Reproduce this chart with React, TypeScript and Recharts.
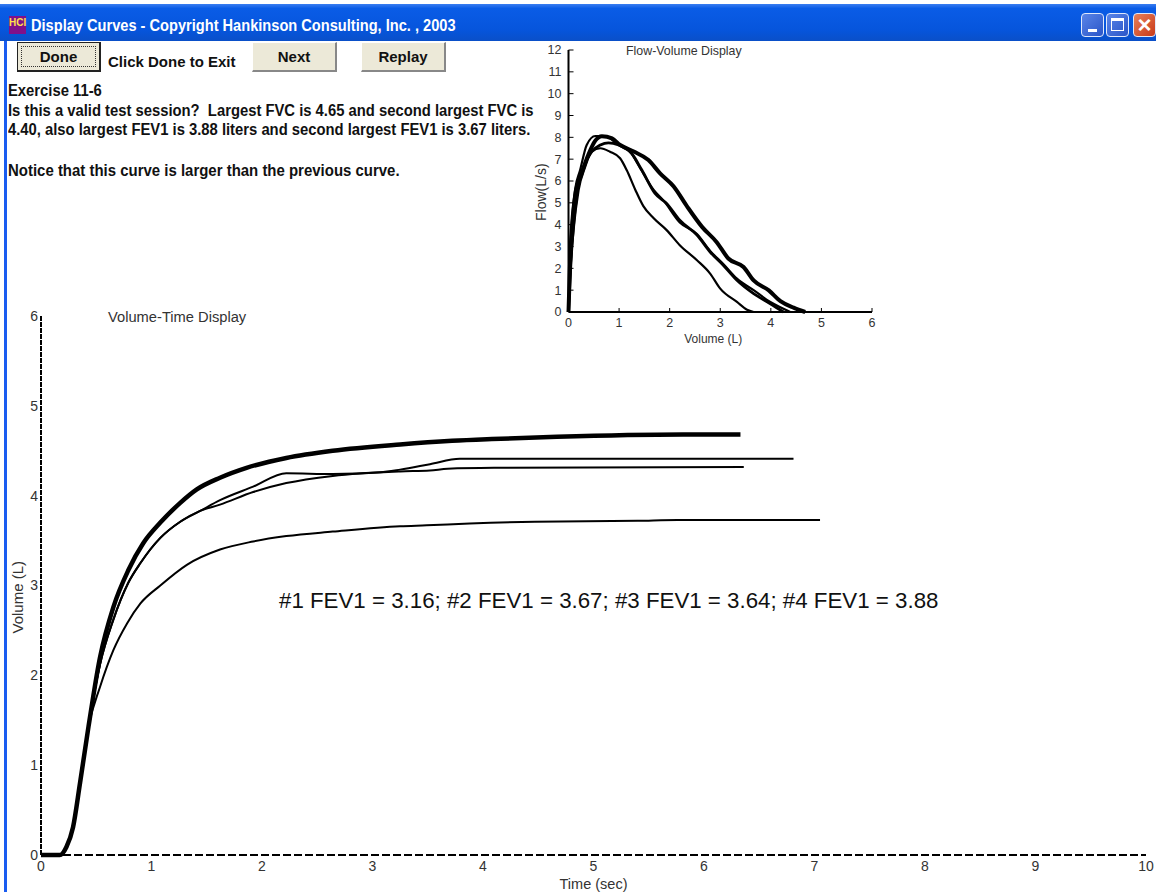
import React from 'react';
import { LineChart, Line, XAxis, YAxis } from 'recharts';

// Volume-time curves
const trial1Time = [0, 0.17, 0.23, 0.29, 0.353, 0.43, 0.534, 0.655, 0.78, 0.9, 1.08, 1.32, 1.62, 1.92, 2.22, 2.64, 3.25, 3.49, 3.88, 4.47, 5.4, 5.76, 7.05];
const trial1Volume = [0, 0, 0.09, 0.31, 0.8, 1.43, 1.87, 2.28, 2.58, 2.8, 3.0, 3.23, 3.4, 3.49, 3.55, 3.6, 3.66, 3.67, 3.69, 3.71, 3.72, 3.73, 3.73];
const trial2Time = [0, 0.17, 0.23, 0.29, 0.353, 0.43, 0.534, 0.655, 0.79, 0.9, 1.08, 1.26, 1.44, 1.62, 1.92, 2.22, 2.64, 3.07, 3.25, 3.52, 3.79, 6.81];
const trial2Volume = [0, 0, 0.09, 0.31, 0.8, 1.43, 2.12, 2.62, 3.03, 3.25, 3.53, 3.71, 3.83, 3.95, 4.1, 4.25, 4.24, 4.26, 4.29, 4.35, 4.41, 4.41];
const trial3Time = [0, 0.17, 0.23, 0.29, 0.353, 0.43, 0.534, 0.655, 0.79, 0.9, 1.08, 1.26, 1.44, 1.62, 1.92, 2.22, 2.64, 3.25, 3.52, 3.68, 4.1, 6.36];
const trial3Volume = [0, 0, 0.09, 0.31, 0.8, 1.43, 2.12, 2.62, 3.03, 3.25, 3.53, 3.71, 3.83, 3.9, 4.04, 4.14, 4.22, 4.27, 4.28, 4.3, 4.31, 4.32];
const trial4Time = [0, 0.17, 0.23, 0.29, 0.353, 0.43, 0.534, 0.655, 0.79, 0.925, 1.08, 1.26, 1.41, 1.62, 1.86, 2.22, 2.64, 3.25, 3.72, 4.08, 4.67, 5.81, 6.33];
const trial4Volume = [0, 0, 0.09, 0.31, 0.8, 1.43, 2.2, 2.76, 3.17, 3.47, 3.7, 3.92, 4.07, 4.2, 4.31, 4.42, 4.5, 4.57, 4.61, 4.63, 4.655, 4.68, 4.68];

// Flow-volume loops
const loop1Volume = [0, 0.03, 0.1, 0.2, 0.33, 0.46, 0.63, 0.82, 1.02, 1.15, 1.32, 1.48, 1.68, 1.94, 2.2, 2.54, 2.8, 3.0, 3.33, 3.53, 3.66];
const loop1Flow = [0, 1.6, 3.75, 5.58, 6.65, 7.34, 7.5, 7.34, 7.04, 6.5, 5.6, 4.85, 4.3, 3.75, 3.06, 2.37, 1.76, 1.07, 0.46, 0.1, 0];
const loop2Volume = [0, 0.03, 0.13, 0.23, 0.36, 0.53, 0.73, 0.96, 1.22, 1.42, 1.68, 1.88, 2.2, 2.54, 2.8, 3.06, 3.33, 3.66, 3.99, 4.25, 4.38];
const loop2Flow = [0, 2.5, 5.6, 6.5, 7.65, 8.06, 8.06, 7.7, 7.34, 6.58, 5.6, 5.1, 4.1, 3.57, 2.8, 2.2, 1.53, 1, 0.46, 0.15, 0];
const loop3Volume = [0, 0.07, 0.16, 0.3, 0.46, 0.63, 0.79, 0.99, 1.25, 1.45, 1.71, 1.94, 2.2, 2.54, 2.8, 3.06, 3.33, 3.66, 3.99, 4.25];
const loop3Flow = [0, 3.1, 5.3, 6.65, 7.34, 7.65, 7.75, 7.65, 7.26, 6.5, 5.43, 4.97, 4.2, 3.52, 2.75, 2.14, 1.45, 0.84, 0.38, 0];
const loop4Volume = [0, 0.03, 0.13, 0.26, 0.4, 0.53, 0.66, 0.86, 1.02, 1.29, 1.58, 1.81, 2.08, 2.34, 2.64, 2.93, 3.16, 3.46, 3.66, 3.96, 4.19, 4.45, 4.68];
const loop4Flow = [0, 2.2, 5.3, 6.35, 7.25, 7.85, 8.05, 7.95, 7.65, 7.35, 6.96, 6.35, 5.75, 4.85, 3.9, 3.2, 2.45, 2.06, 1.45, 0.99, 0.5, 0.2, 0];

const timeTicks = [0, 1, 2, 3, 4, 5, 6, 7, 8, 9, 10];
const volumeTicks = [0, 1, 2, 3, 4, 5, 6];
const flowTicks = [0, 1, 2, 3, 4, 5, 6, 7, 8, 9, 10, 11, 12];

const zip = (xs: number[], ys: number[]) => xs.map((x, i) => ({ x, y: ys[i] }));

const SANS = '"Liberation Sans", Arial, sans-serif';
const TICK = { fill: '#333', fontSize: 14, fontFamily: SANS };
const SMALL_TICK = { fill: '#333', fontSize: 12.5, fontFamily: SANS };

const abs = (left: number, top: number, width: number, height: number): React.CSSProperties => ({
  position: 'absolute',
  left,
  top,
  width,
  height,
});

const Button: React.FC<{ left: number; width: number; label: string; focused?: boolean }> = ({ left, width, label, focused }) => (
  <div
    style={{
      ...abs(left, 42, width, 30),
      boxSizing: 'border-box',
      background: '#ece9d8',
      borderTop: focused ? '1px solid #222' : '1px solid #fff',
      borderLeft: focused ? '1px solid #222' : '1px solid #fff',
      borderRight: focused ? '2px solid #222' : '2px solid #888',
      borderBottom: focused ? '2px solid #222' : '2px solid #888',
      textAlign: 'center',
      font: `bold 15px ${SANS}`,
      lineHeight: '27px',
      color: '#111',
    }}
  >
    {focused && <div style={{ position: 'absolute', inset: 3, border: '1px dotted #333' }} />}
    {label}
  </div>
);

const WinButton: React.FC<{ left: number; bg: string; children?: React.ReactNode }> = ({ left, bg, children }) => (
  <div
    style={{
      ...abs(left, 13, 23, 24),
      boxSizing: 'border-box',
      background: bg,
      border: '1px solid #dfe8fb',
      borderRadius: 4,
    }}
  >
    {children}
  </div>
);

const Line1: React.CSSProperties = { font: `bold 16px/18px ${SANS}`, color: '#111', whiteSpace: 'pre', position: 'absolute', left: 8, transform: 'scaleX(0.925)', transformOrigin: 'left' };

export default function App() {
  return (
    <div style={{ ...abs(0, 0, 1156, 892), background: '#fff', overflow: 'hidden' }}>
      {/* window chrome */}
      <div style={{ ...abs(0, 4, 1156, 37), background: 'linear-gradient(#3a7df0 0%, #0a5ce6 12%, #0655dc 70%, #0a4fc8 100%)' }} />
      <div style={abs(4, 41, 3, 851)}>
        <div style={{ width: 3, height: 851, background: '#1a5cf0' }} />
      </div>
      <div style={{ ...abs(9, 16, 17, 18), background: '#80108a', color: '#ffe14a', font: `bold 10px/14px ${SANS}`, textAlign: 'center' }}>HCI</div>
      <div style={{ position: 'absolute', left: 31, top: 16, color: '#fff', font: `bold 16px/20px ${SANS}`, whiteSpace: 'pre', transform: 'scaleX(0.913)', transformOrigin: 'left' }}>
        Display Curves - Copyright Hankinson Consulting, Inc. , 2003
      </div>
      <WinButton left={1081} bg="linear-gradient(135deg,#5a85e8,#2a55c8)">
        <div style={{ ...abs(6, 15, 9, 3), background: '#fff' }} />
      </WinButton>
      <WinButton left={1106} bg="linear-gradient(135deg,#5a85e8,#2a55c8)">
        <div style={{ ...abs(4, 4, 13, 13), boxSizing: 'border-box', border: '1px solid #fff', borderTop: '3px solid #fff' }} />
      </WinButton>
      <WinButton left={1133} bg="linear-gradient(135deg,#e8805a,#c83a18)">
        <div style={{ color: '#fff', font: `bold 24px/22px ${SANS}`, textAlign: 'center' }}>×</div>
      </WinButton>

      {/* buttons and exercise text */}
      <Button left={17} width={84} label="Done" focused />
      <div style={{ position: 'absolute', left: 108, top: 53, font: `bold 15px/17px ${SANS}`, color: '#111' }}>Click Done to Exit</div>
      <Button left={252} width={85} label="Next" />
      <Button left={361} width={85} label="Replay" />
      <div style={{ ...Line1, top: 82 }}>Exercise 11-6</div>
      <div style={{ ...Line1, top: 102 }}>Is this a valid test session?  Largest FVC is 4.65 and second largest FVC is</div>
      <div style={{ ...Line1, top: 121 }}>4.40, also largest FEV1 is 3.88 liters and second largest FEV1 is 3.67 liters.</div>
      <div style={{ ...Line1, top: 162, transform: 'scaleX(0.935)' }}>Notice that this curve is larger than the previous curve.</div>

      {/* volume-time chart */}
      <div style={abs(0, 300, 1156, 592)}>
        <LineChart width={1156} height={592} margin={{ top: 16, right: 10, bottom: 0, left: 0 }}>
          <XAxis
            type="number"
            dataKey="x"
            domain={[0, 10]}
            ticks={timeTicks}
            height={37}
            tickSize={0}
            tickMargin={6}
            tick={TICK}
            axisLine={{ stroke: '#000', strokeWidth: 2, strokeDasharray: '8 3' }}
            allowDuplicatedCategory={false}
            label={{ value: 'Time (sec)', position: 'insideBottom', offset: 3, fill: '#333', fontSize: 14.5, fontFamily: SANS }}
          />
          <YAxis
            type="number"
            dataKey="y"
            domain={[0, 6]}
            ticks={volumeTicks}
            width={41}
            tickSize={0}
            tickMargin={3}
            tick={TICK}
            axisLine={{ stroke: '#000', strokeWidth: 2, strokeDasharray: '5 1' }}
            label={{ value: 'Volume (L)', angle: -90, position: 'insideLeft', offset: 18, dy: 48, fill: '#333', fontSize: 15, fontFamily: SANS }}
          />
          <Line data={zip(trial1Time, trial1Volume)} dataKey="y" type="monotone" stroke="#000" strokeWidth={2} dot={false} isAnimationActive={false} />
          <Line data={zip(trial2Time, trial2Volume)} dataKey="y" type="monotone" stroke="#000" strokeWidth={2} dot={false} isAnimationActive={false} />
          <Line data={zip(trial3Time, trial3Volume)} dataKey="y" type="monotone" stroke="#000" strokeWidth={2} dot={false} isAnimationActive={false} />
          <Line data={zip(trial4Time, trial4Volume)} dataKey="y" type="monotone" stroke="#000" strokeWidth={4.5} dot={false} isAnimationActive={false} />
        </LineChart>
      </div>
      <div style={{ position: 'absolute', left: 108, top: 309, font: `14.7px/16px ${SANS}`, color: '#333' }}>Volume-Time Display</div>
      <div style={{ position: 'absolute', left: 279, top: 588, font: `22.3px/26px ${SANS}`, color: '#111', whiteSpace: 'pre' }}>
        #1 FEV1 = 3.16; #2 FEV1 = 3.67; #3 FEV1 = 3.64; #4 FEV1 = 3.88
      </div>

      {/* flow-volume chart */}
      <div style={abs(520, 30, 370, 320)}>
        <LineChart width={370} height={320} margin={{ top: 20, right: 18, bottom: 0, left: 0 }}>
          <XAxis
            type="number"
            dataKey="x"
            domain={[0, 6]}
            ticks={volumeTicks}
            height={38}
            tickSize={-4}
            tickMargin={10}
            tick={SMALL_TICK}
            tickLine={{ stroke: '#000' }}
            axisLine={{ stroke: '#000', strokeWidth: 2 }}
            label={{ value: 'Volume (L)', position: 'insideBottom', offset: 7, dx: -7, fill: '#333', fontSize: 12, fontFamily: SANS }}
          />
          <YAxis
            type="number"
            dataKey="y"
            domain={[0, 12]}
            ticks={flowTicks}
            width={48.5}
            tickSize={-5}
            tickMargin={12}
            tick={SMALL_TICK}
            tickLine={{ stroke: '#000' }}
            axisLine={{ stroke: '#000', strokeWidth: 2 }}
            label={{ value: 'Flow(L/s)', angle: -90, position: 'insideLeft', offset: 21, dy: 40, fill: '#333', fontSize: 14, fontFamily: SANS }}
          />
          <Line data={zip(loop1Volume, loop1Flow)} dataKey="y" type="monotone" stroke="#000" strokeWidth={2.2} dot={false} isAnimationActive={false} />
          <Line data={zip(loop2Volume, loop2Flow)} dataKey="y" type="monotone" stroke="#000" strokeWidth={2.2} dot={false} isAnimationActive={false} />
          <Line data={zip(loop3Volume, loop3Flow)} dataKey="y" type="monotone" stroke="#000" strokeWidth={2.8} dot={false} isAnimationActive={false} />
          <Line data={zip(loop4Volume, loop4Flow)} dataKey="y" type="monotone" stroke="#000" strokeWidth={4} dot={false} isAnimationActive={false} />
        </LineChart>
      </div>
      <div style={{ position: 'absolute', left: 626, top: 44, font: `12.4px/14px ${SANS}`, color: '#333' }}>Flow-Volume Display</div>
    </div>
  );
}
